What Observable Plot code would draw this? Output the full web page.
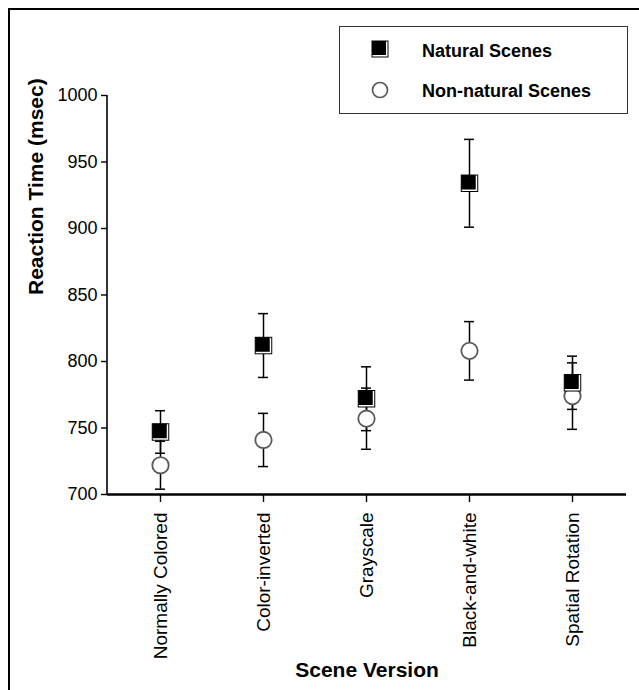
<!DOCTYPE html>
<html><head><meta charset="utf-8">
<script src="https://cdn.jsdelivr.net/npm/d3@7"></script>
<script src="https://cdn.jsdelivr.net/npm/@observablehq/plot@0.6"></script>
<style>
html,body{margin:0;padding:0;background:#fff;}
body{width:639px;height:690px;overflow:hidden;position:relative;font-family:"Liberation Sans",Arial,sans-serif;}
#frame{position:absolute;left:8px;top:8px;width:700px;height:700px;border-left:2.5px solid #000;border-top:2.5px solid #000;}
#chart{position:absolute;left:0;top:0;}
#legend{position:absolute;left:339px;top:26px;width:287px;height:86px;border:1px solid #333;background:#fff;}
</style></head><body>
<div id="frame"></div>
<div id="chart"></div>
<div id="legend"></div>
<script>
const scenes = ["Normally Colored", "Color-inverted", "Grayscale", "Black-and-white", "Spatial Rotation"];
const naturalMean = [747, 812, 772, 934, 784];
const naturalErr = [16, 24, 24, 33, 20];
const nonNaturalMean = [722, 741, 757, 808, 774];
const nonNaturalErr = [18, 20, 23, 22, 25];
const yTicks = [700, 750, 800, 850, 900, 950, 1000];
const seriesNames = ["Natural Scenes", "Non-natural Scenes"];
const xTitle = "Scene Version";
const yTitle = "Reaction Time (msec)";

const natural = scenes.map((s, i) => ({scene: s, mean: naturalMean[i], err: naturalErr[i]}));
const nonNatural = scenes.map((s, i) => ({scene: s, mean: nonNaturalMean[i], err: nonNaturalErr[i]}));

const FONT = '"Liberation Sans", Arial, sans-serif';
const SQ = 1.7725; // side / r for square symbol

function errorMarks(data) {
  return [
    Plot.ruleX(data, {x: "scene", y1: d => d.mean - d.err, y2: d => d.mean + d.err, stroke: "#000", strokeWidth: 1.5}),
    Plot.tickY(data, {x: "scene", y: d => d.mean + d.err, stroke: "#000", strokeWidth: 1.5}),
    Plot.tickY(data, {x: "scene", y: d => d.mean - d.err, stroke: "#000", strokeWidth: 1.5})
  ];
}

const yAxisLine = (index, scales, values, dims) => {
  const g = d3.create("svg:line")
    .attr("x1", dims.marginLeft).attr("x2", dims.marginLeft)
    .attr("y1", scales.y(1000)).attr("y2", scales.y(700))
    .attr("stroke", "#000").attr("stroke-width", 1.6);
  return g.node();
};

const chart = Plot.plot({
  width: 639,
  height: 690,
  marginLeft: 107,
  marginRight: 13,
  marginTop: 95,
  marginBottom: 196,
  style: {fontFamily: FONT, background: "transparent", color: "#000"},
  x: {type: "band", domain: scenes, paddingInner: 0.9, paddingOuter: 0.45},
  y: {domain: [700, 1000]},
  marks: [
    Plot.axisY({ticks: yTicks, tickFormat: d3.format("d"), tickSize: 6, tickPadding: 4, fontSize: 18, label: null, strokeWidth: 1.4}),
    Plot.axisX({tickRotate: -90, tickSize: 8, tickPadding: 10, fontSize: 19, label: null, strokeWidth: 1.4}),
    yAxisLine,
    Plot.ruleY([700], {stroke: "#000", strokeWidth: 2.6}),
    ...errorMarks(nonNatural),
    ...errorMarks(natural),
    Plot.dot(nonNatural, {x: "scene", y: "mean", r: 8.2, symbol: "circle", fill: "#fff", stroke: "#5a5a5a", strokeWidth: 1.8}),
    Plot.dot(natural, {x: "scene", y: "mean", r: 17.5 / SQ, symbol: "square", fill: "#000", stroke: "none"}),
    Plot.dot(natural, {x: "scene", y: "mean", r: 15.5 / SQ, symbol: "square", fill: "#fff", stroke: "none"}),
    Plot.dot(natural, {x: "scene", y: "mean", r: 14.5 / SQ, symbol: "square", fill: "#000", stroke: "none", dx: -1, dy: -1}),
    Plot.text([yTitle], {frameAnchor: "left", dx: -71, rotate: -90, fontSize: 21, fontWeight: "bold", text: d => d}),
    Plot.text([xTitle], {frameAnchor: "bottom", dy: 182, fontSize: 21, fontWeight: "bold", text: d => d})
  ]
});
document.getElementById("chart").appendChild(chart);

// Legend
const lg = d3.select("#legend").append("svg").attr("width", 287).attr("height", 86)
  .style("font-family", FONT);
const sqSym = d3.symbol(d3.symbolSquare);
const mx = 40, my = [22, 63];
lg.append("path").attr("transform", `translate(${mx},${my[0]})`).attr("d", sqSym.size(17 * 17)()).attr("fill", "#000");
lg.append("path").attr("transform", `translate(${mx},${my[0]})`).attr("d", sqSym.size(15 * 15)()).attr("fill", "#fff");
lg.append("path").attr("transform", `translate(${mx - 1},${my[0] - 1})`).attr("d", sqSym.size(14 * 14)()).attr("fill", "#000");
lg.append("circle").attr("cx", mx).attr("cy", my[1]).attr("r", 7.5).attr("fill", "#fff").attr("stroke", "#5a5a5a").attr("stroke-width", 1.7);
lg.selectAll("text.lab").data(seriesNames).join("text")
  .attr("x", 82).attr("y", (d, i) => [30, 70][i])
  .attr("font-size", 18).attr("font-weight", "bold").attr("fill", "#000")
  .text(d => d);
</script></body></html>
